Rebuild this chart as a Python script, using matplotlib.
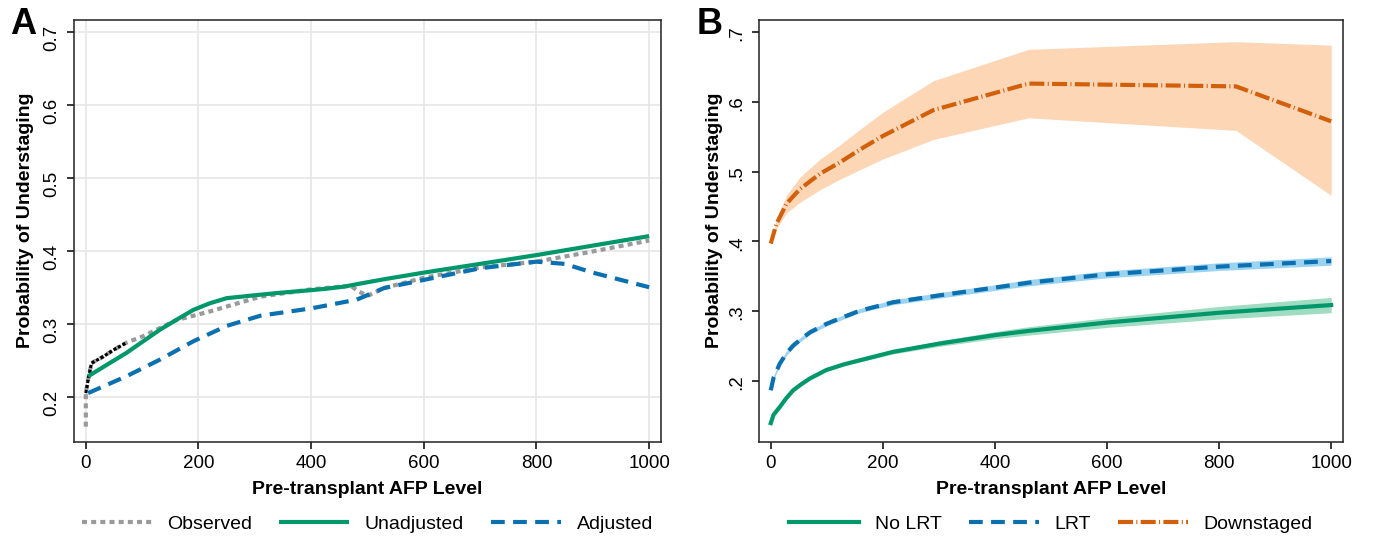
import numpy as np
import matplotlib.pyplot as plt

plt.rcParams['font.family'] = ['Liberation Sans', 'DejaVu Sans']
plt.rcParams['lines.solid_joinstyle'] = 'round'
plt.rcParams['lines.dash_joinstyle'] = 'round'

# ---- Panel A data ----
obs_x = [0, 0, 4, 10, 31, 49, 72, 102, 161, 221, 310, 399, 455, 470, 485, 500, 530, 600, 700, 800, 900, 1000]
obs_y = [0.159, 0.205, 0.223, 0.246, 0.255, 0.264, 0.274, 0.283, 0.305, 0.317, 0.337, 0.347, 0.351, 0.352, 0.344, 0.338, 0.349, 0.363, 0.377, 0.385, 0.399, 0.414]
obs_early_end = 7  # observed points 1..6 are drawn in black

unadj_x = [4, 40, 72, 100, 132, 160, 191, 220, 250, 300, 339, 400, 428, 460, 487, 530, 600, 800, 1000]
unadj_y = [0.228, 0.245, 0.260, 0.275, 0.292, 0.305, 0.319, 0.328, 0.335, 0.339, 0.342, 0.346, 0.348, 0.351, 0.355, 0.361, 0.370, 0.394, 0.420]

adj_x = [4, 72, 132, 191, 250, 310, 400, 481, 530, 600, 700, 800, 850, 900, 1000]
adj_y = [0.205, 0.228, 0.251, 0.276, 0.297, 0.311, 0.321, 0.333, 0.349, 0.360, 0.376, 0.385, 0.382, 0.370, 0.350]

# ---- Panel B data ----
b_x = [0, 5, 16, 28, 40, 55, 70, 99, 130, 159, 218, 302, 400, 460, 600, 800, 1000]
nolrt_y = [0.140, 0.152, 0.163, 0.176, 0.187, 0.196, 0.204, 0.216, 0.224, 0.230, 0.242, 0.254, 0.266, 0.272, 0.284, 0.298, 0.309]
nolrt_lo = [0.139, 0.1505, 0.161, 0.174, 0.185, 0.194, 0.202, 0.214, 0.222, 0.2275, 0.239, 0.250, 0.261, 0.266, 0.277, 0.289, 0.298]
nolrt_hi = [0.141, 0.1535, 0.165, 0.178, 0.189, 0.198, 0.206, 0.218, 0.226, 0.2325, 0.245, 0.258, 0.271, 0.278, 0.291, 0.307, 0.320]

lrt_y = [0.187, 0.205, 0.225, 0.240, 0.251, 0.261, 0.270, 0.282, 0.292, 0.301, 0.313, 0.323, 0.334, 0.341, 0.353, 0.364, 0.372]
lrt_lo = [0.184, 0.202, 0.222, 0.237, 0.248, 0.258, 0.267, 0.279, 0.289, 0.298, 0.3095, 0.319, 0.330, 0.3365, 0.348, 0.3585, 0.366]
lrt_hi = [0.190, 0.208, 0.228, 0.243, 0.254, 0.264, 0.273, 0.285, 0.295, 0.304, 0.3165, 0.327, 0.338, 0.3455, 0.358, 0.3695, 0.378]

down_x = [0, 10, 28, 52, 88, 123, 160, 200, 290, 460, 830, 1000]
down_y = [0.397, 0.425, 0.454, 0.475, 0.497, 0.513, 0.532, 0.551, 0.588, 0.626, 0.622, 0.572]
down_lo = [0.395, 0.418, 0.441, 0.456, 0.474, 0.489, 0.503, 0.518, 0.546, 0.577, 0.559, 0.466]
down_hi = [0.399, 0.432, 0.466, 0.492, 0.518, 0.538, 0.561, 0.585, 0.630, 0.675, 0.686, 0.681]

green = '#00986A'
blue = '#0A70B0'
orange = '#D2600A'
gray = '#9A9A9A'

fig = plt.figure(figsize=(13.73, 5.42), dpi=100)
axA = fig.add_axes([0.0539, 0.1845, 0.4275, 0.7786])
axB = fig.add_axes([0.5528, 0.1845, 0.4253, 0.7786])

dash = (0, (3.3, 2.0))
dot = (0, (1.2, 1.0))
dashdot = (0, (3.6, 0.8, 0.25, 0.8))

# Panel A
axA.grid(True, color='#E6E6E6', linewidth=1.2, zorder=0)
axA.set_axisbelow(True)
axA.plot(obs_x, obs_y, color=gray, lw=3, linestyle=dot, label='Observed')
axA.plot(obs_x[1:obs_early_end], obs_y[1:obs_early_end], color='black', lw=2.3, linestyle=(0, (1, 0.6)))
axA.plot(unadj_x, unadj_y, color=green, lw=3, label='Unadjusted', solid_capstyle='butt')
axA.plot(adj_x, adj_y, color=blue, lw=3, linestyle=dash, label='Adjusted')
axA.set_xlim(-21, 1021)
axA.set_ylim(0.138, 0.716)
axA.set_yticks([0.2, 0.3, 0.4, 0.5, 0.6, 0.7])
axA.set_yticklabels(['0.2', '0.3', '0.4', '0.5', '0.6', '0.7'])

# Panel B
axB.fill_between(down_x, down_lo, down_hi, color='#FDD6B6', lw=0)
axB.fill_between(b_x, lrt_lo, lrt_hi, color='#9CD3F1', lw=0)
axB.fill_between(b_x, nolrt_lo, nolrt_hi, color='#A0DCC2', lw=0)
axB.plot(b_x, nolrt_y, color=green, lw=3, label='No LRT')
axB.plot(b_x, lrt_y, color=blue, lw=3, linestyle=dash, label='LRT')
axB.plot(down_x, down_y, color=orange, lw=3, linestyle=dashdot, label='Downstaged')
axB.set_xlim(-21, 1021)
axB.set_ylim(0.113, 0.717)
axB.set_yticks([0.2, 0.3, 0.4, 0.5, 0.6, 0.7])
axB.set_yticklabels(['.2', '.3', '.4', '.5', '.6', '.7'])

for ax, lx in [(axA, -0.069), (axB, -0.061)]:
    ax.set_xticks([0, 200, 400, 600, 800, 1000])
    ax.tick_params(axis='both', labelsize=13.5, length=5, width=1.1, direction='out')
    ax.tick_params(axis='y', labelrotation=90, pad=5)
    ax.tick_params(axis='x', pad=4)
    for s in ax.spines.values():
        s.set_linewidth(1.1)
        s.set_color('#222222')
    ax.set_xlabel('Pre-transplant AFP Level', fontsize=14, fontweight='bold')
    ax.set_ylabel('Probability of Understaging', fontsize=14, fontweight='bold')
    ax.xaxis.set_label_coords(0.5, -0.092)
    ax.yaxis.set_label_coords(lx, 0.526)
    ax.legend(loc='center', bbox_to_anchor=(0.5, -0.194), ncol=3, frameon=False,
              fontsize=14, handlelength=3.6, handletextpad=0.8, columnspacing=1.4)

fig.text(10 / 1373, 1 - 25 / 542, 'A', fontsize=26, fontweight='bold', va='center', ha='left')
fig.text(697 / 1373, 1 - 25 / 542, 'B', fontsize=26, fontweight='bold', va='center', ha='left')

fig.savefig('out.png', dpi=100)
